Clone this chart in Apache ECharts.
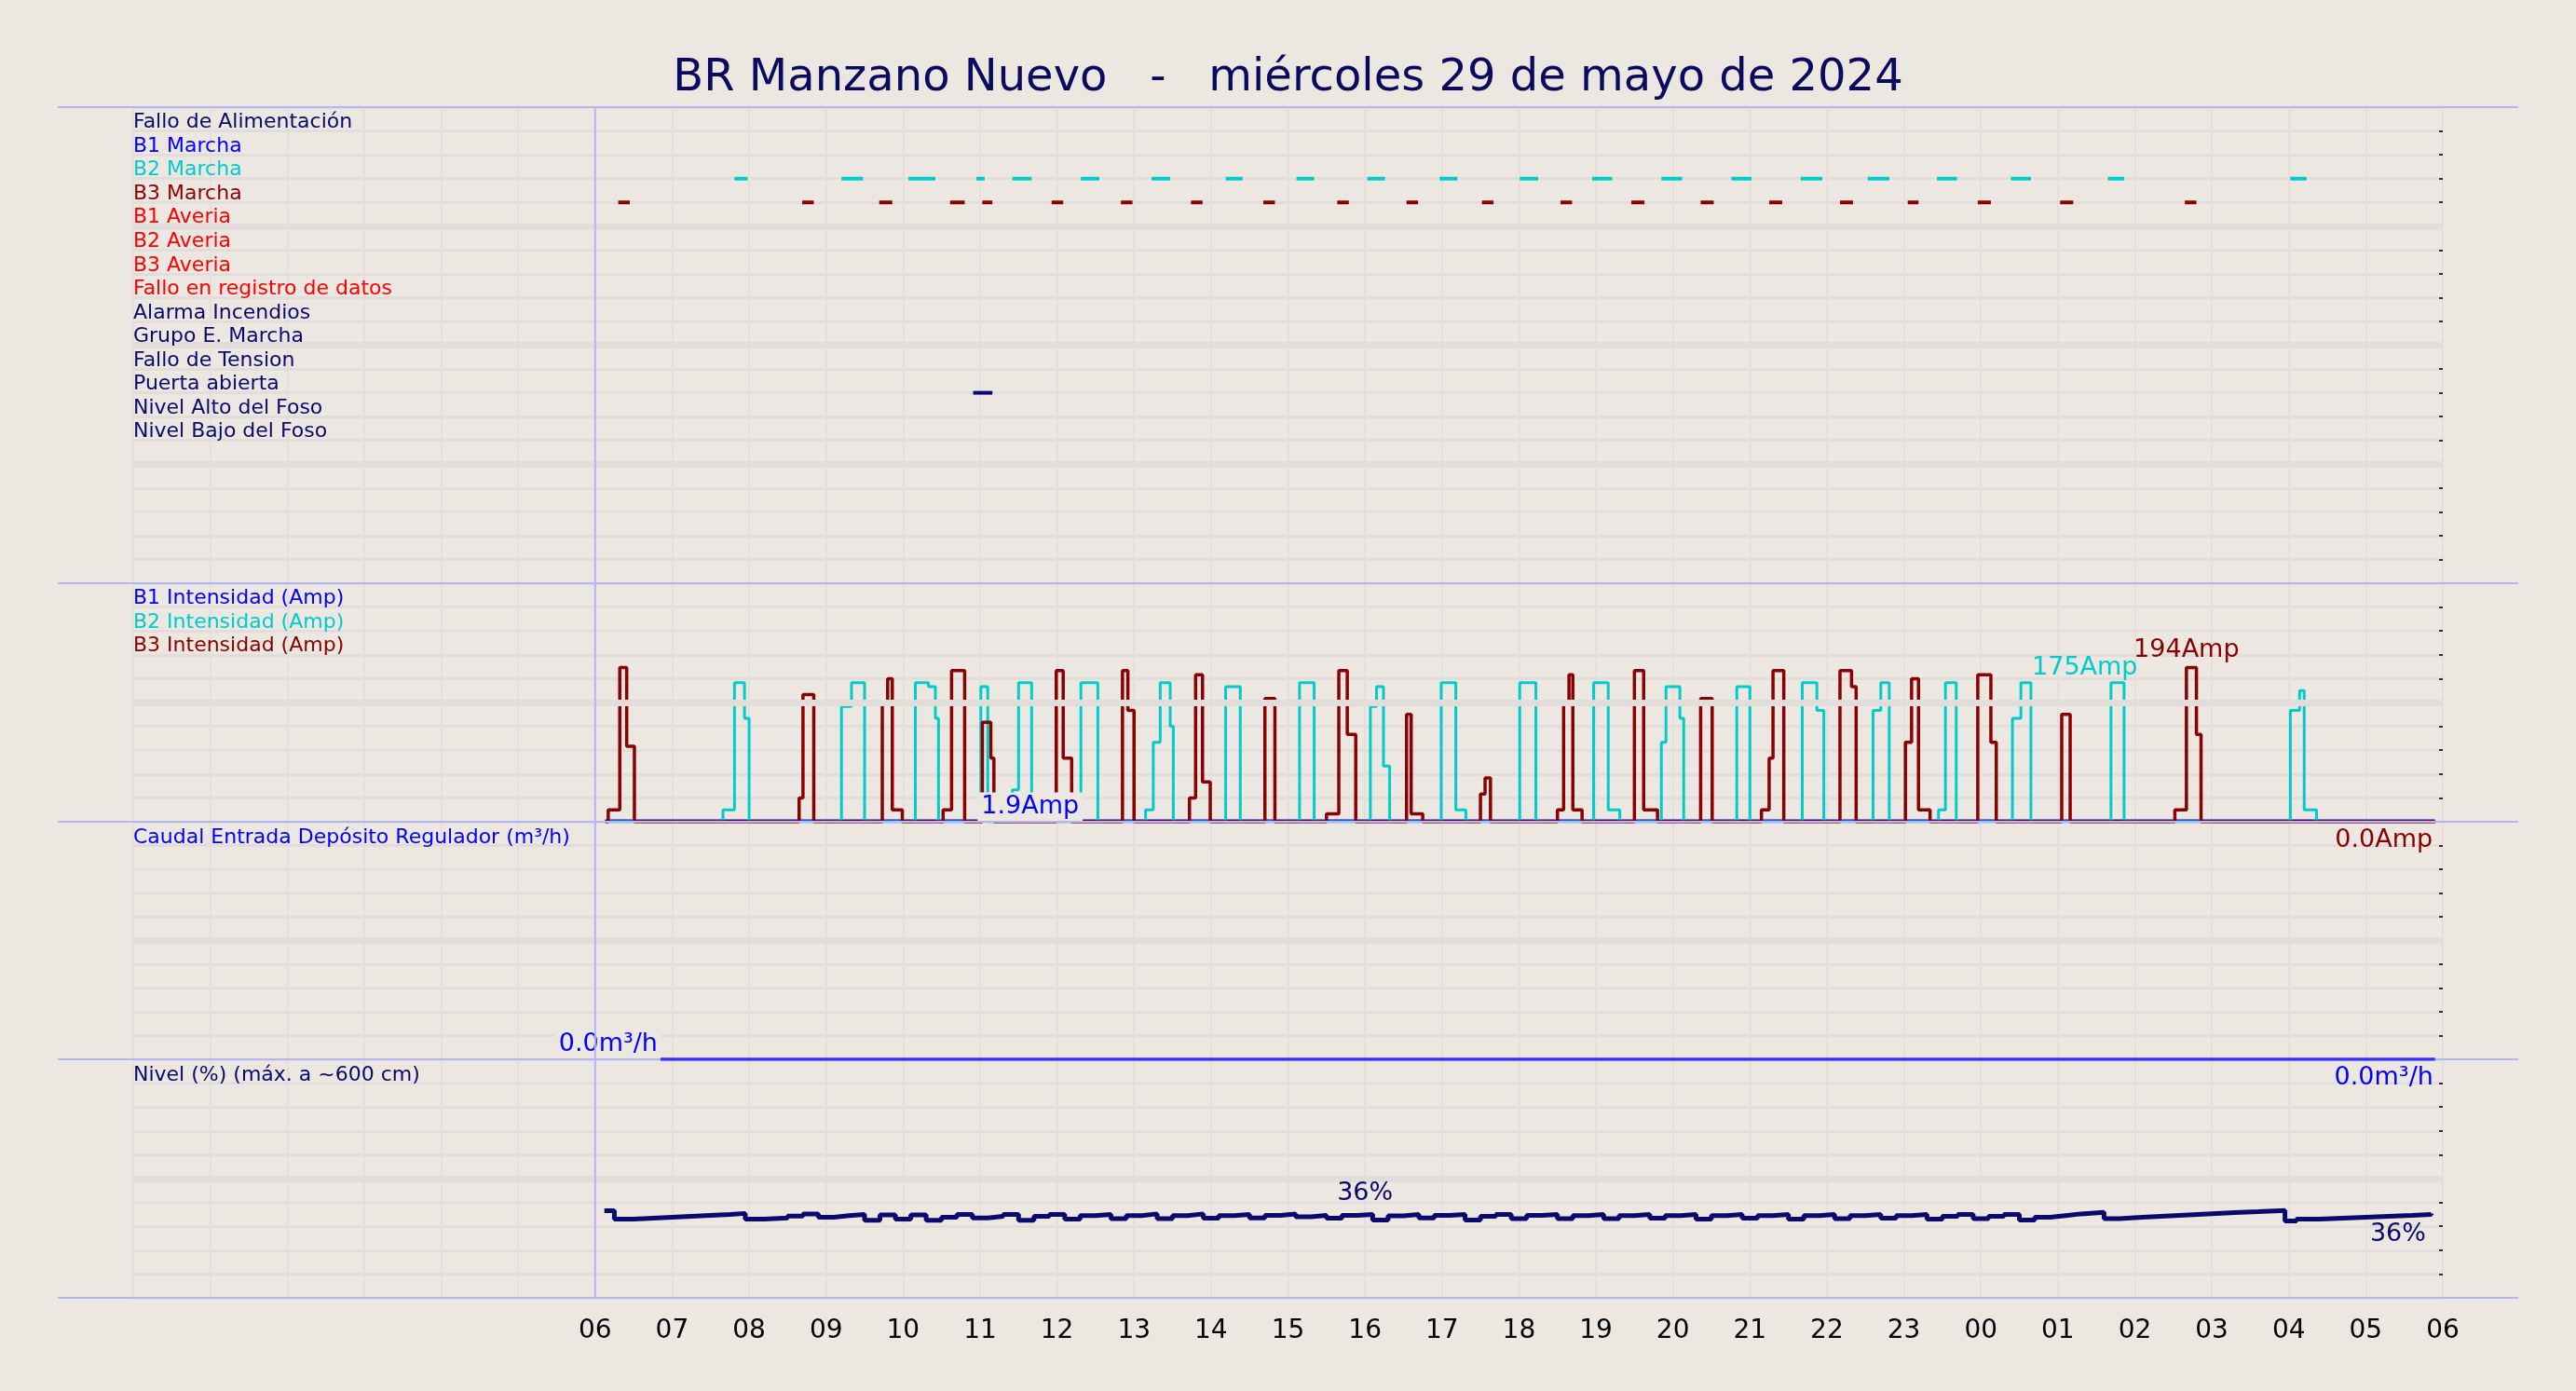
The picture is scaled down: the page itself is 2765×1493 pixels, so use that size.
<!DOCTYPE html>
<html><head><meta charset="utf-8">
<script src="https://cdn.jsdelivr.net/npm/echarts@6/dist/echarts.min.js"></script>
<style>html,body{margin:0;padding:0;background:#ece7e1}#c{width:2765px;height:1493px}</style>
</head><body><div id="c"></div>
<script>
const title = 'BR Manzano Nuevo   -   miércoles 29 de mayo de 2024';
const hourLabels = ['06','07','08','09','10','11','12','13','14','15','16','17','18','19','20','21','22','23','00','01','02','03','04','05','06'];
const digitalNames = ['Fallo de Alimentación','B1 Marcha','B2 Marcha','B3 Marcha','B1 Averia','B2 Averia','B3 Averia','Fallo en registro de datos','Alarma Incendios','Grupo E. Marcha','Fallo de Tension','Puerta abierta','Nivel Alto del Foso','Nivel Bajo del Foso'];
const digitalColors = ['#0a0a6e','#0000ff','#00cccc','#8b0000','#ff0000','#ff0000','#ff0000','#ff0000','#0a0a6e','#0a0a6e','#0a0a6e','#0a0a6e','#0a0a6e','#0a0a6e'];
// hours after 06:00
const b2Marcha = [[1.81,1.98],[3.2,3.48],[4.07,4.42],[4.95,5.06],[5.42,5.67],[6.31,6.55],[7.23,7.47],[8.19,8.41],[9.11,9.34],[10.03,10.26],[10.97,11.2],[12.01,12.25],[12.95,13.21],[13.85,14.12],[14.76,15.02],[15.66,15.94],[16.53,16.81],[17.43,17.69],[18.39,18.65],[19.65,19.86],[22.02,22.23]];
const b3Marcha = [[0.3,0.45],[2.69,2.84],[3.69,3.86],[4.61,4.8],[5.03,5.16],[5.93,6.08],[6.83,6.98],[7.74,7.89],[8.68,8.83],[9.64,9.79],[10.54,10.69],[11.52,11.67],[12.54,12.69],[13.46,13.63],[14.36,14.53],[15.25,15.42],[16.17,16.34],[17.05,17.19],[17.96,18.13],[19.03,19.2],[20.65,20.8]];
const puerta = [[4.91,5.16]];
const b2Amp = [[0.13,0],[1.66,15],[1.81,175],[1.94,130],[2.0,0],[3.2,145],[3.33,175],[3.5,0],[4.16,175],[4.33,170],[4.42,130],[4.46,0],[5.01,170],[5.1,0],[5.42,40],[5.5,175],[5.67,0],[6.31,175],[6.53,0],[7.15,15],[7.25,100],[7.34,175],[7.47,120],[7.51,0],[8.19,170],[8.38,0],[9.15,175],[9.34,0],[10.07,145],[10.15,170],[10.24,70],[10.32,0],[10.99,175],[11.18,15],[11.31,0],[12.01,175],[12.22,0],[12.97,175],[13.16,15],[13.31,0],[13.85,100],[13.91,170],[14.09,130],[14.14,0],[14.83,170],[15.0,0],[15.68,175],[15.87,140],[15.96,0],[16.6,140],[16.7,175],[16.81,0],[17.45,15],[17.54,175],[17.68,0],[18.41,130],[18.52,175],[18.65,0],[19.69,175],[19.86,0],[22.02,140],[22.14,165],[22.2,15],[22.36,0],[23.9,0]];
const b3Amp = [[0.13,0],[0.17,15],[0.32,194],[0.41,95],[0.51,0],[2.65,30],[2.7,160],[2.84,0],[3.73,150],[3.8,180],[3.86,15],[3.99,0],[4.52,15],[4.63,190],[4.8,0],[5.03,125],[5.14,80],[5.18,0],[5.99,190],[6.08,80],[6.19,0],[6.85,190],[6.92,140],[7.0,0],[7.72,30],[7.8,185],[7.89,50],[7.99,0],[8.7,155],[8.83,0],[9.5,10],[9.66,190],[9.77,110],[9.88,0],[10.54,135],[10.6,10],[10.75,0],[11.5,35],[11.56,55],[11.63,0],[12.5,15],[12.58,150],[12.65,185],[12.7,15],[12.82,0],[13.5,190],[13.62,15],[13.8,0],[14.36,155],[14.51,0],[15.15,15],[15.25,80],[15.3,190],[15.44,0],[16.17,190],[16.32,170],[16.38,0],[17.02,100],[17.1,180],[17.19,15],[17.34,0],[17.96,185],[18.13,100],[18.2,0],[19.05,135],[19.16,0],[20.52,15],[20.67,194],[20.8,110],[20.86,0],[23.9,0]];
const b1Amp = [[0.13,1.9],[23.9,1.9]];
const caudal = [[0.85,0],[23.9,0]];
const nivel = [[0.12,36.5],[0.25,33],[0.5,33.4],[0.75,33.8],[1.0,34.2],[1.25,34.6],[1.5,35],[1.75,35.4],[1.95,33],[2.2,33.5],[2.5,34.3],[2.7,35.2],[2.9,33.8],[3.1,34.5],[3.3,35],[3.5,32.5],[3.7,34.8],[3.9,33],[4.1,34.8],[4.3,32.5],[4.5,33.8],[4.7,35],[4.9,33.5],[5.1,34.2],[5.3,35],[5.5,32.5],[5.7,34.2],[5.9,35],[6.1,33],[6.3,34.5],[6.5,35],[6.7,33.2],[6.9,34.5],[7.1,35.2],[7.3,33.2],[7.5,34.5],[7.7,35.2],[7.9,33.4],[8.1,34.5],[8.3,35],[8.5,33.5],[8.7,34.6],[8.9,35.2],[9.1,34],[9.3,34.6],[9.5,33.4],[9.7,34.6],[9.9,35],[10.1,32.6],[10.3,34.4],[10.5,35],[10.7,33.5],[10.9,34.6],[11.1,35],[11.3,32.6],[11.5,34.2],[11.7,35],[11.9,33.2],[12.1,34.6],[12.3,35],[12.5,33.2],[12.7,34.5],[12.9,35],[13.1,33.2],[13.3,34.5],[13.5,35],[13.7,33.4],[13.9,34.5],[14.1,35],[14.3,33],[14.5,34.5],[14.7,35],[14.9,33.4],[15.1,34.5],[15.3,35],[15.5,33],[15.7,34.5],[15.9,35],[16.1,33.2],[16.3,34.5],[16.5,35],[16.7,33.4],[16.9,34.5],[17.1,35],[17.3,33],[17.5,34.2],[17.7,35],[17.9,33.2],[18.1,34.2],[18.3,35],[18.5,32.6],[18.7,33.8],[18.9,34.5],[19.1,35.2],[19.3,35.8],[19.6,33.2],[19.8,33.8],[20.1,34.3],[20.4,34.8],[20.7,35.3],[21,35.7],[21.3,36.1],[21.6,36.6],[21.95,32.2],[22.1,33],[22.4,33.4],[22.7,33.8],[23,34.2],[23.3,34.6],[23.6,35],[23.85,35.4]];

const L=143, R=2622, W=R-L;
const tops=[115,626,882,1137,1393];
const rowH=25.55;
const grid=[0,1,2,3].map(i=>({left:L,width:W,top:tops[i],height:tops[i+1]-tops[i],containLabel:false}));
const gridLineColor='#e2dcda';
const xAxis=[0,1,2,3].map(i=>({type:'value',gridIndex:i,min:-6,max:24,interval:1,
  axisLine:{show:false,onZero:false},axisTick:{show:false},
  axisLabel:{show:i===3,fontSize:28,color:'#000',margin:22,fontFamily:'DejaVu Sans',formatter:v=>v<0?'':hourLabels[v]},
  splitLine:{show:true,lineStyle:{color:'#e4dedc',width:2}}}));
const yCfg=[[0,20,1,true],[0,300,30,false],[0,10,1,false],[0,100,10,false]];
const yAxis=yCfg.map((c,i)=>({type:'value',gridIndex:i,min:c[0],max:c[1],interval:c[2],inverse:c[3],position:'right',
  axisLine:{show:false,onZero:false},axisTick:{show:true,inside:true,length:4,lineStyle:{color:'#333',width:2}},axisLabel:{show:false},
  splitLine:{show:true,lineStyle:{color:gridLineColor,width:3}}}));
function segData(segs,row){const d=[];segs.forEach(s=>{d.push([s[0],row],[s[1],row],[s[1],'-']);});return d;}
const series=[];
[[0,[5,10,15]],[1,[150]],[2,[5]],[3,[50]]].forEach(b=>{
  series.push({type:'line',xAxisIndex:b[0],yAxisIndex:b[0],data:[],silent:true,
    markLine:{silent:true,symbol:'none',label:{show:false},lineStyle:{color:'#e2dcda',width:7,type:'solid'},data:b[1].map(v=>({yAxis:v}))}});
});
const dig=[[b2Marcha,2],[b3Marcha,3],[puerta,11]];
dig.forEach(d=>series.push({type:'line',xAxisIndex:0,yAxisIndex:0,data:segData(d[0],d[1]+1),showSymbol:false,connectNulls:false,
  lineStyle:{color:digitalColors[d[1]],width:4},itemStyle:{color:digitalColors[d[1]]}}));
const mp=(coord,text,color,off,bg)=>({coord,symbol:'circle',symbolSize:1,itemStyle:{color:'rgba(0,0,0,0)'},
  label:{show:true,position:'inside',formatter:text,color,fontSize:27,fontFamily:'DejaVu Sans',offset:off,backgroundColor:bg||'transparent',padding:bg?[2,4]:0}});
series.push({type:'line',xAxisIndex:1,yAxisIndex:1,data:b1Amp,step:'end',showSymbol:false,lineStyle:{color:'#0000ff',width:2},
  markPoint:{z:20,data:[mp([5.65,0],'1.9Amp','#0000ff',[0,-16],'#ece7e1')]}});
series.push({type:'line',xAxisIndex:1,yAxisIndex:1,data:b2Amp,step:'end',showSymbol:false,lineStyle:{color:'#00cccc',width:3},
  markPoint:{data:[mp([19.35,175],'175Amp','#00cccc',[0,-16])]}});
series.push({type:'line',xAxisIndex:1,yAxisIndex:1,data:b3Amp,step:'end',showSymbol:false,lineStyle:{color:'#8b0000',width:3.5},
  markPoint:{data:[mp([20.67,194],'194Amp','#8b0000',[0,-18])]}});
series.push({type:'line',xAxisIndex:1,yAxisIndex:1,data:[],markPoint:{data:[mp([23.9,0],'0.0Amp','#8b0000',[-55,20])]}});
series.push({type:'line',xAxisIndex:2,yAxisIndex:2,data:caudal,showSymbol:false,z:70,lineStyle:{color:'#3030ff',width:3.5},
  markPoint:{data:[mp([0.17,0],'0.0m³/h','#0000ff',[0,-16],'#ece7e1'),mp([23.9,0],'0.0m³/h','#0000ff',[-55,20])]}});
series.push({type:'line',xAxisIndex:3,yAxisIndex:3,data:nivel,step:'end',showSymbol:false,lineStyle:{color:'#0a0a6e',width:5},
  markPoint:{data:[mp([10.0,35],'36%','#0a0a6e',[0,-22]),mp([23.6,35],'36%','#0a0a6e',[-15,22])]}});

const graphic=[];
const x0=L+6/30*W;
tops.forEach(t=>graphic.push({type:'line',shape:{x1:62,y1:t,x2:2703,y2:t},style:{stroke:'#b4b4fa',lineWidth:2},z:50}));
graphic.push({type:'line',shape:{x1:x0,y1:115,x2:x0,y2:1393},style:{stroke:'#b4b4fa',lineWidth:2},z:50});
const txt=(x,y,t,c)=>({type:'text',x,y,style:{text:t,fill:c,font:'22px "DejaVu Sans"',textVerticalAlign:'bottom'},z:60});
digitalNames.forEach((n,i)=>graphic.push(txt(L,tops[0]+(i+1)*rowH+2,n,digitalColors[i])));
[['B1 Intensidad (Amp)','#0000ff'],['B2 Intensidad (Amp)','#00cccc'],['B3 Intensidad (Amp)','#8b0000']].forEach((a,i)=>graphic.push(txt(L,tops[1]+(i+1)*rowH+2,a[0],a[1])));
graphic.push(txt(L,tops[2]+rowH+3,'Caudal Entrada Depósito Regulador (m³/h)','#0000ff'));
graphic.push(txt(L,tops[3]+rowH+3,'Nivel (%) (máx. a ~600 cm)','#0a0a6e'));

const chart=echarts.init(document.getElementById('c'));
chart.setOption({backgroundColor:'#ece7e1',animation:false,
  title:{text:title,left:'center',top:56,textStyle:{fontSize:48,fontWeight:'normal',color:'#0a0a5e',fontFamily:'DejaVu Sans'}},
  grid,xAxis,yAxis,series,graphic});
</script></body></html>
